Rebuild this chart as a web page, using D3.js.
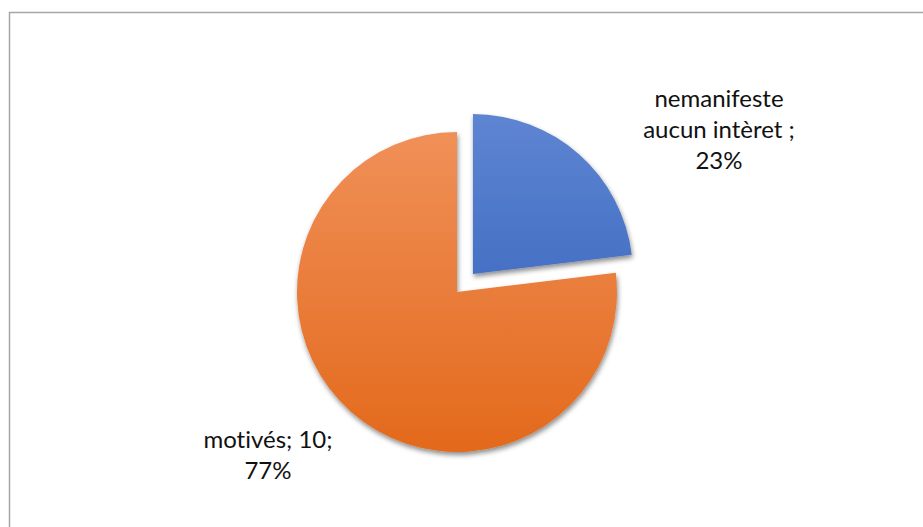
<!DOCTYPE html>
<html>
<head>
<meta charset="utf-8">
<script src="https://cdn.jsdelivr.net/npm/d3@7"></script>
<style>
  body { margin: 0; background: #fff; }
  svg { display: block; }
  text { font-variant-ligatures: none; }
</style>
</head>
<body>
<svg id="chart" width="923" height="527"></svg>
<script>
// data
var categories = ["nemanifeste aucun intèret", "motivés"];
var values = [3, 10];
var percents = ["23%", "77%"];
var labelLines = [
  ["nemanifeste", "aucun intèret ;", "23%"],
  ["motivés; 10;", "77%"]
];

var W = 923, H = 527;
var svg = d3.select("#chart");

// chart area frame (runs off the right/bottom of the picture)
svg.append("rect")
  .attr("x", 9.5).attr("y", 12.5)
  .attr("width", W + 20).attr("height", H + 20)
  .attr("fill", "#fff")
  .attr("stroke", "#a6a6a6")
  .attr("stroke-width", 1.5);

var cx = 457, cy = 292, r = 160, explode = 24;

var defs = svg.append("defs");
var shadow = defs.append("filter").attr("id", "shadow")
  .attr("x", "-20%").attr("y", "-20%").attr("width", "140%").attr("height", "140%");
shadow.append("feDropShadow")
  .attr("dx", 1).attr("dy", 3).attr("stdDeviation", 2.5)
  .attr("flood-color", "#000").attr("flood-opacity", 0.45);

var grads = [
  {id: "gBlue", top: "#5e85d2", bottom: "#2d5cb6"},
  {id: "gOrange", top: "#f09058", bottom: "#e3691c"}
];
grads.forEach(function(g){
  var lg = defs.append("linearGradient").attr("id", g.id)
    .attr("gradientUnits", "userSpaceOnUse")
    .attr("x1", 0).attr("y1", -r).attr("x2", 0).attr("y2", r);
  lg.append("stop").attr("offset", "0%").attr("stop-color", g.top);
  lg.append("stop").attr("offset", "100%").attr("stop-color", g.bottom);
});

var pie = d3.pie().sort(null).startAngle(0).endAngle(2 * Math.PI);
var arcs = pie(values);
var arc = d3.arc().innerRadius(0).outerRadius(r);

var g = svg.append("g").attr("transform", "translate(" + cx + "," + cy + ")");

g.selectAll("path")
  .data(arcs)
  .enter()
  .append("path")
  .attr("transform", function(d, i){
    if(i !== 0) return null;
    var mid = (d.startAngle + d.endAngle) / 2;
    return "translate(" + (Math.sin(mid) * explode) + "," + (-Math.cos(mid) * explode) + ")";
  })
  .attr("d", arc)
  .attr("fill", function(d, i){ return "url(#" + grads[i].id + ")"; })
  .attr("filter", "url(#shadow)");

// data labels
var labelPos = [
  {x: 719, y: 107},
  {x: 268, y: 448}
];
var lineH = 31;
labelLines.forEach(function(lines, i){
  var t = svg.append("text")
    .attr("x", labelPos[i].x)
    .attr("y", labelPos[i].y)
    .attr("text-anchor", "middle")
    .attr("font-family", "Lato, 'Open Sans', sans-serif")
    .attr("font-size", 24)
    .attr("fill", "#111");
  lines.forEach(function(s, j){
    t.append("tspan")
      .attr("x", labelPos[i].x)
      .attr("y", labelPos[i].y + j * lineH)
      .text(s);
  });
});
</script>
</body>
</html>
